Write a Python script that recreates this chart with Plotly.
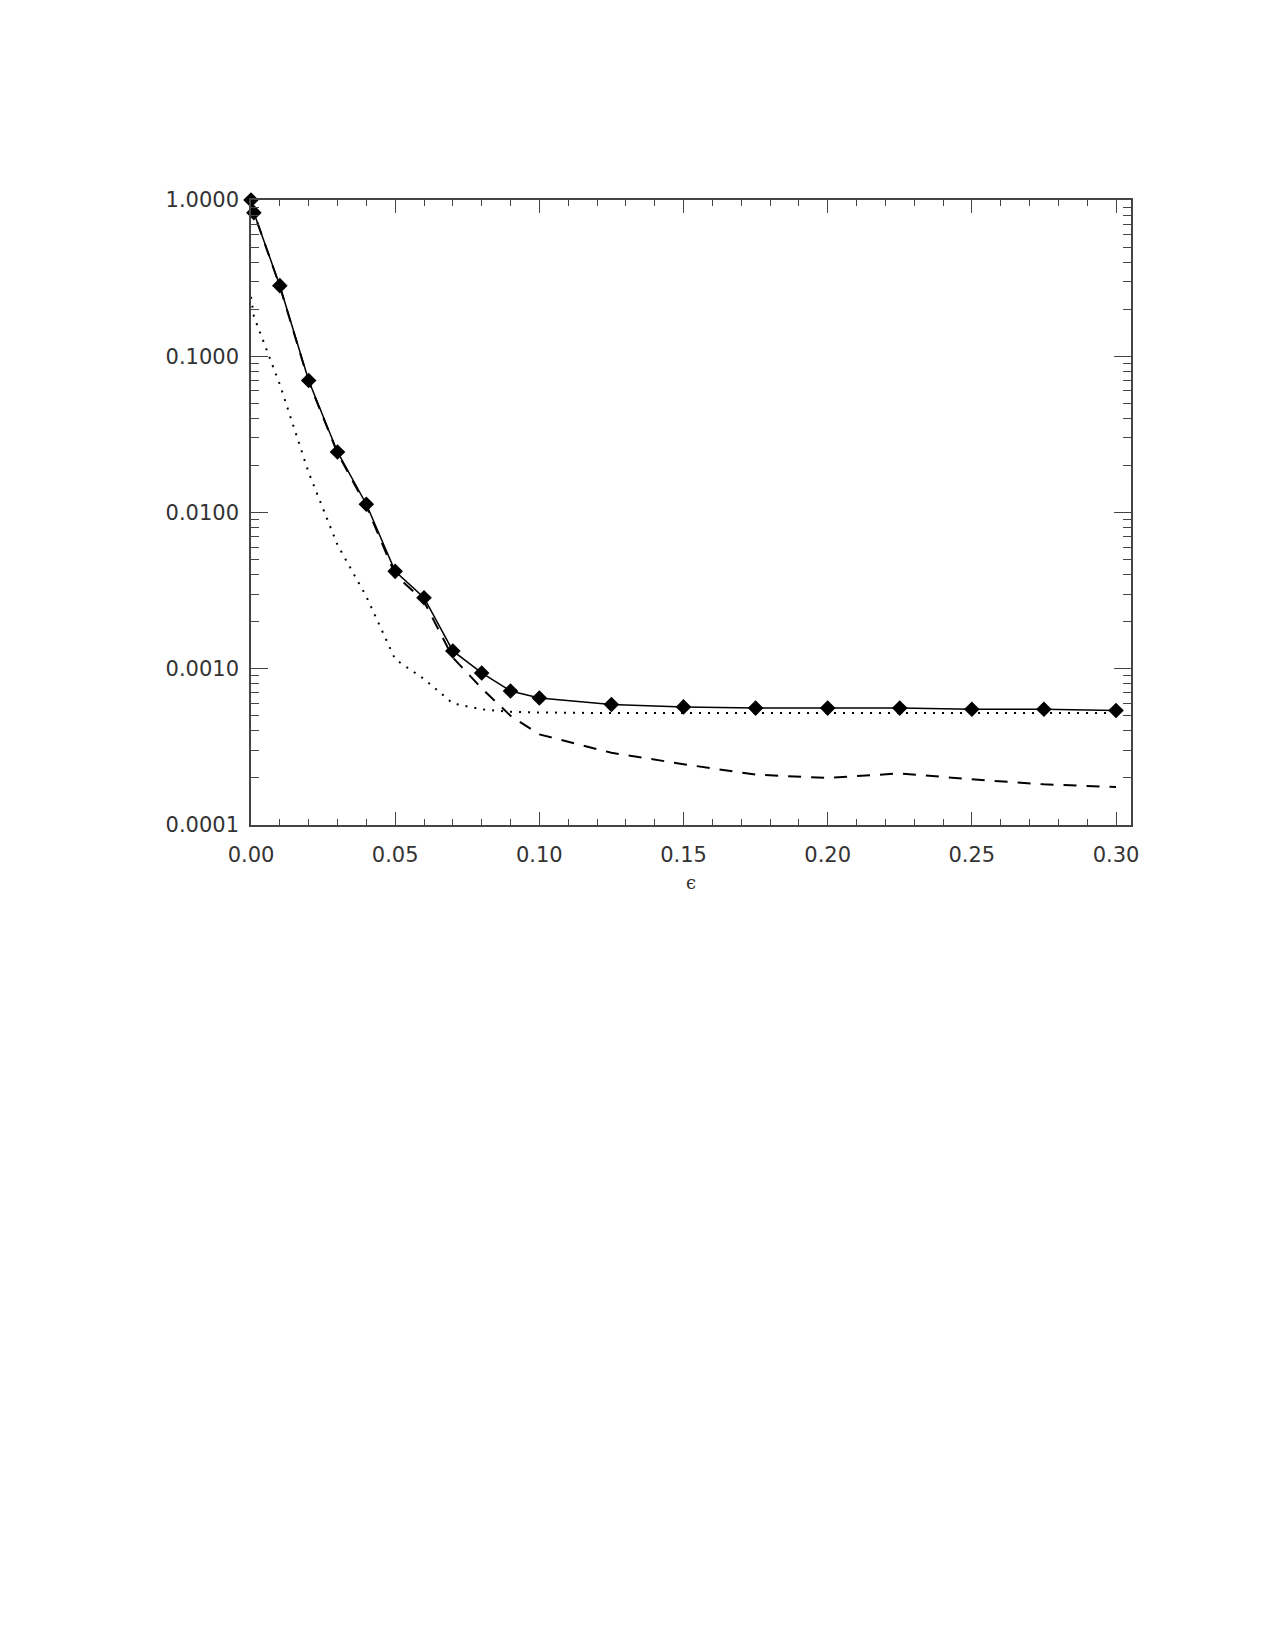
import plotly.graph_objects as go

# epsilon grid
eps = [0.0, 0.001, 0.01, 0.02, 0.03, 0.04, 0.05, 0.06, 0.07, 0.08, 0.09, 0.10,
       0.125, 0.15, 0.175, 0.20, 0.225, 0.25, 0.275, 0.30]

# solid line with diamonds
solid = [1.0, 0.83, 0.283, 0.070, 0.0244, 0.0113, 0.0042, 0.00285, 0.0013, 0.00094,
         0.00072, 0.00065, 0.00059, 0.00057, 0.00056, 0.00056, 0.00056, 0.00055,
         0.00055, 0.00054]

# dashed line
dashed = [1.0, 0.83, 0.28, 0.069, 0.024, 0.011, 0.0040, 0.0027, 0.00118, 0.00075,
          0.00050, 0.00038, 0.00029, 0.000245, 0.00021, 0.00020, 0.000214, 0.000196,
          0.000182, 0.000175]

# dotted line
dotted = [0.24, 0.18, 0.066, 0.018, 0.0062, 0.0029, 0.00115, 0.00086, 0.00060, 0.00055,
          0.00053, 0.000525, 0.00052, 0.00052, 0.00052, 0.00052, 0.00052, 0.00052,
          0.00052, 0.00052]

y_ticks = [1e-4, 1e-3, 1e-2, 1e-1, 1.0]
y_labels = ["0.0001", "0.0010", "0.0100", "0.1000", "1.0000"]
x_ticks = [0.0, 0.05, 0.10, 0.15, 0.20, 0.25, 0.30]
x_labels = ["0.00", "0.05", "0.10", "0.15", "0.20", "0.25", "0.30"]

# minor log ticks 2..9 in every decade
y_minor = [m * 10.0 ** k for k in range(-4, 0) for m in range(2, 10)]

fig = go.Figure()

fig.add_trace(go.Scatter(x=eps, y=dotted, mode="lines",
                         line=dict(color="black", width=2, dash="2px,7px")))
fig.add_trace(go.Scatter(x=eps, y=dashed, mode="lines",
                         line=dict(color="black", width=2, dash="13px,10px")))
fig.add_trace(go.Scatter(x=eps, y=solid, mode="lines+markers",
                         line=dict(color="black", width=1.5),
                         marker=dict(symbol="diamond", size=12, color="black"),
                         cliponaxis=False))

axis_font = dict(family="DejaVu Sans", size=21, color="#333333")

fig.update_layout(
    width=1275, height=1650,
    margin=dict(l=243, r=152, t=192, b=833),
    paper_bgcolor="white", plot_bgcolor="white",
    showlegend=False,
    xaxis=dict(range=[0, 0.3052], tickvals=x_ticks, ticktext=x_labels,
               ticks="inside", ticklen=13, tickcolor="#444", showgrid=False,
               zeroline=False, showline=True, linecolor="#444", linewidth=1.5,
               mirror="ticks", tickfont=axis_font, ticklabelstandoff=10,
               minor=dict(dtick=0.01, tick0=0, ticks="inside", ticklen=6,
                          tickcolor="#444", showgrid=False),
               title=dict(text="ϵ", font=dict(family="DejaVu Serif", size=18, color="#333"),
                          standoff=10)),
    yaxis=dict(type="log", range=[-4, 0], tickvals=y_ticks, ticktext=y_labels,
               ticks="inside", ticklen=17, tickcolor="#444", showgrid=False,
               zeroline=False, showline=True, linecolor="#444", linewidth=1.5,
               mirror="ticks", tickfont=axis_font, ticklabelstandoff=6,
               minor=dict(tickmode="array", tickvals=y_minor, ticks="inside", ticklen=8,
                          tickcolor="#444", showgrid=False)),
)

fig.write_html("out.html")
